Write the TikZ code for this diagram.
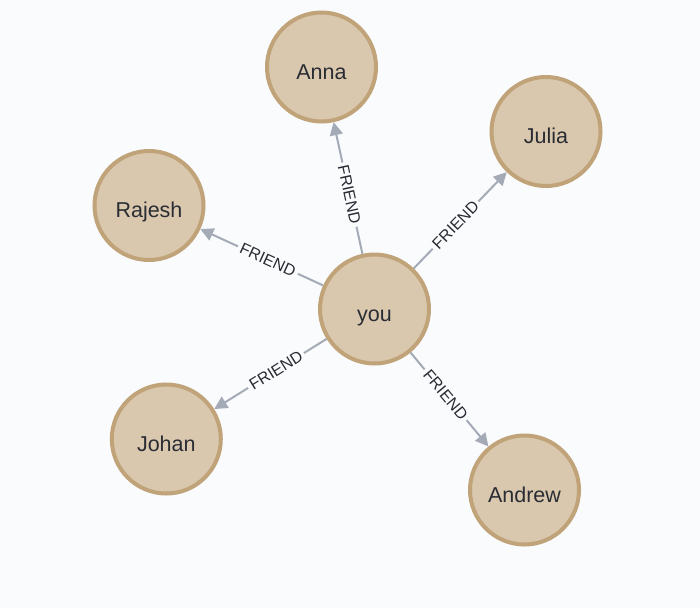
\documentclass[tikz,border=0pt]{standalone}
\usepackage{fontspec}
\setmainfont{Liberation Sans}
\usetikzlibrary{arrows.meta}
\definecolor{bg}{HTML}{F9FBFD}
\definecolor{nodefill}{HTML}{D9C8AE}
\definecolor{nodedraw}{HTML}{C0A378}
\definecolor{edgecol}{HTML}{A5ABB6}
\definecolor{txt}{HTML}{2A2C34}
\begin{document}
\begin{tikzpicture}[x=1pt,y=-1pt,
  person/.style={circle, draw=nodedraw, fill=nodefill, line width=4pt,
    minimum size=109pt, inner sep=0pt, text=txt,
    text height=24pt, text depth=0pt,
    font=\fontsize{21.5}{24}\selectfont},
  rel/.style={draw=edgecol, line width=2pt, -{Triangle[length=13pt,width=13pt]}},
  rellabel/.style={fill=bg, text=txt, font=\fontsize{16}{19}\selectfont,
    inner sep=3pt, sloped, pos=0.45}]
\fill[bg] (0,0) rectangle (700,608);
\useasboundingbox (0,0) rectangle (700,608);
\node[person] (you) at (374.5,309) {you};
\node[person] (anna) at (321.5,67) {Anna};
\node[person] (julia) at (546,131.5) {Julia};
\node[person] (rajesh) at (149,205.5) {Rajesh};
\node[person] (johan) at (166.3,439) {Johan};
\node[person] (andrew) at (524.5,490) {Andrew};
\draw[rel] (you) -- node[rellabel]{FRIEND} (anna);
\draw[rel] (you) -- node[rellabel]{FRIEND} (julia);
\draw[rel] (you) -- node[rellabel]{FRIEND} (rajesh);
\draw[rel] (you) -- node[rellabel]{FRIEND} (johan);
\draw[rel] (you) -- node[rellabel]{FRIEND} (andrew);
\end{tikzpicture}
\end{document}
